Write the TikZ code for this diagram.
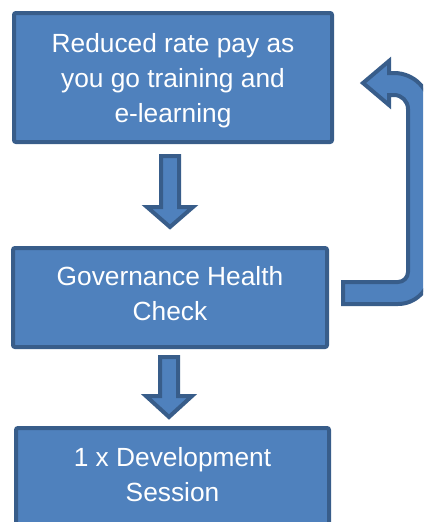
\documentclass[tikz,border=0pt]{standalone}
\usepackage{fontspec}
\setmainfont{Liberation Sans}
\definecolor{boxfill}{HTML}{4F81BD}
\definecolor{boxline}{HTML}{385D8A}
\begin{document}
\begin{tikzpicture}[x=1pt,y=-1pt,
  blockshape/.style={fill=boxfill, draw=boxline, line width=4pt, line join=miter},
  box/.style={blockshape, rectangle, rounded corners=2pt, inner sep=0pt},
  boxtext/.style={text=white, font=\fontsize{26.3}{35}\selectfont, align=center, inner sep=0pt}
]
\useasboundingbox (0,0) rectangle (423,522);
\clip (0,0) rectangle (423,522);
% boxes
\node[box, minimum width=318pt, minimum height=129pt] (b1) at (173,77.5) {};
\node[box, minimum width=314pt, minimum height=99pt] (b2) at (170,297.5) {};
\node[box, minimum width=313pt, minimum height=98pt] (b3) at (172.5,477) {};
% texts
\node[boxtext] (t1) at (173,80.3) {Reduced rate pay as\\you go training and\\e-learning};
\node[boxtext] (t2) at (170,293.7) {Governance Health\\Check};
\node[boxtext] (t3) at (172.5,474.7) {1 x Development\\Session};
% down block arrows
\draw[blockshape] (161,156) -- (179,156) -- (179,207) -- (193,207) -- (170,227) -- (147,207) -- (161,207) -- cycle;
\draw[blockshape] (160,357) -- (178,357) -- (178,396) -- (192,396) -- (169,417) -- (146,396) -- (160,396) -- cycle;
% U-turn arrow
\draw[blockshape] (363,83) -- (389,61) -- (389,73) -- (394,73)
  arc[start angle=270, end angle=360, radius=36] -- (430,272)
  arc[start angle=0, end angle=90, radius=32] -- (343,304) -- (343,282) -- (398,282)
  arc[start angle=90, end angle=0, radius=10] -- (408,109)
  arc[start angle=360, end angle=270, radius=14] -- (389,95) -- (389,105) -- cycle;
\end{tikzpicture}
\end{document}
